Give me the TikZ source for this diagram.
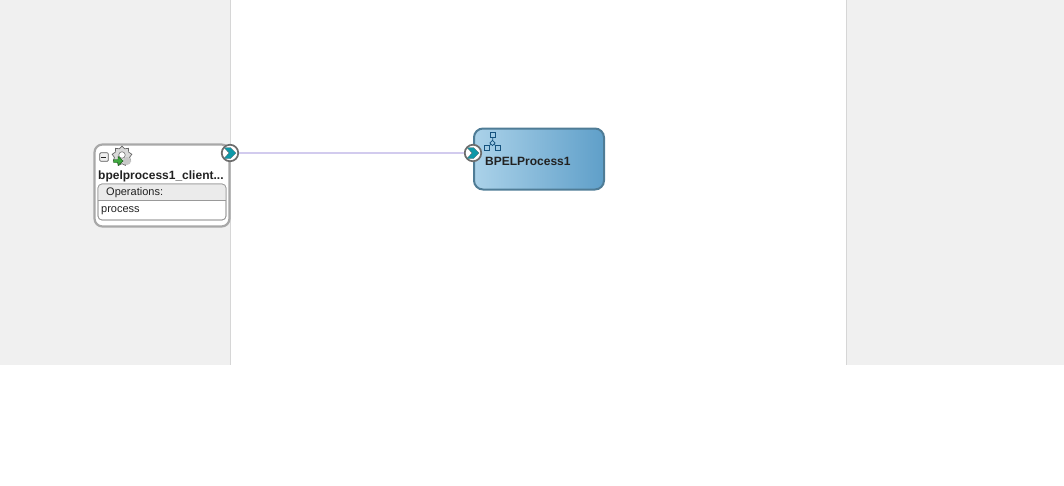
\documentclass[tikz,border=0pt]{standalone}
\usepackage{fontspec}
\setmainfont{Liberation Sans}
\usetikzlibrary{shapes.geometric}
\definecolor{panelgray}{HTML}{F0F0F0}
\definecolor{panelline}{HTML}{D6D6D6}
\definecolor{boxline}{HTML}{A8A8A8}
\definecolor{wireline}{HTML}{D2CBEE}
\definecolor{compline}{HTML}{4F7C96}
\definecolor{compleft}{HTML}{ABD2E9}
\definecolor{compright}{HTML}{5F9FC9}
\definecolor{portteal}{HTML}{0E98A8}
\definecolor{iconblue}{HTML}{14527E}
\definecolor{textgray}{HTML}{222222}
\tikzset{
  clientbox/.style={draw=boxline, line width=2.2pt, rounded corners=8pt, fill=white, minimum width=135pt, minimum height=82pt, inner sep=0pt},
  opsbox/.style={draw=gray!80, line width=.7pt, rounded corners=4pt, fill=white, minimum width=128pt, minimum height=36pt, inner sep=0pt},
  compbox/.style={draw=compline, line width=2pt, rounded corners=9pt, left color=compleft, right color=compright, minimum width=130pt, minimum height=61pt, inner sep=0pt},
  portnode/.style={circle, draw=gray!85!black, line width=1.7pt, fill=white, minimum size=16.5pt, inner sep=0pt},
  treenode/.style={rectangle, draw=iconblue, line width=.8pt, minimum size=5pt, inner sep=0pt},
  boldlabel/.style={font=\bfseries\fontsize{12}{14}\selectfont, text=textgray, inner sep=0pt, anchor=base west},
  smalllabel/.style={font=\fontsize{11}{13}\selectfont, text=textgray, inner sep=0pt, anchor=base west},
  chevron/.style={fill=portteal, draw=black!60, line width=.3pt}
}
\begin{document}
\begin{tikzpicture}[x=1pt,y=-1pt]
\useasboundingbox (0,0) rectangle (1064,485);
% side panels
\fill[panelgray] (0,0) rectangle (230,365);
\fill[panelgray] (846,0) rectangle (1064,365);
\draw[panelline] (230.5,0) -- (230.5,365);
\draw[panelline] (846.5,0) -- (846.5,365);
% client reference
\node[clientbox] (client) at (162,185.5){};
\node[opsbox] (ops) at (162,202){};
\begin{scope}
\clip[rounded corners=4pt] (98,184) rectangle (226,220);
\fill[black!8] (98,184) rectangle (226,200);
\end{scope}
\node[opsbox, fill=none] (opsframe) at (162,202){};
\coordinate (opsl) at (98,200);
\coordinate (opsr) at (226,200);
\draw[gray!80, line width=.7pt] (opsl) -- (opsr);
\node[boldlabel] (clientname) at (98,179){bpelprocess1\_client...};
\node[smalllabel] (opstitle) at (106,195){Operations:};
\node[smalllabel] (opsitem) at (101,212){process};
% collapse box and gear
\node[rectangle, rounded corners=1pt, draw=black!65, line width=.7pt, fill=black!6, minimum size=8.5pt, inner sep=0pt] (minus) at (104,157){};
\draw[black!85, line width=.9pt] (minus.west) ++(1.8,0) -- ++(5,0);
\node[star, star points=9, star point ratio=1.3, draw=black!60, fill=black!15, line width=.7pt, minimum size=20pt, inner sep=0pt] (gear) at (122,156){};
\node[circle, draw=black!55, fill=white, minimum size=6.5pt, inner sep=0pt, line width=.6pt] (gearhole) at (122,155){};
\node[circle, fill=black!22, minimum size=8pt, inner sep=0pt] (gearback) at (127,161){};
\fill[green!55!black!75, draw=green!30!black, line width=.4pt] (113.5,159.5) -- (118,159.5) -- (118,156.5) -- (123,161) -- (118,165.5) -- (118,162.5) -- (113.5,162.5) -- cycle;
% component
\node[compbox] (bpel) at (539,159){};
\node[boldlabel] (bpelname) at (485,165){BPELProcess1};
\node[treenode] (tid0) at (493,135){};
\node[treenode, shape=diamond, minimum size=5.5pt] (tid1) at (492.5,143){};
\node[treenode] (tid2) at (487,147.5){};
\node[treenode] (tid3) at (498,147.5){};
\draw[iconblue, line width=.7pt] (tid0) -- (tid1);
\draw[iconblue, line width=.7pt] (tid1) -- (tid2);
\draw[iconblue, line width=.7pt] (tid1) -- (tid3);
% ports and wire
\node[portnode] (portout) at (230,153){};
\node[portnode] (portin) at (473,153){};
\draw[wireline, line width=2.2pt] (portout) -- (portin);
\foreach \p in {portout,portin}{
  \fill[chevron] (\p) ++(-6,-5.5) -- ++(6.5,0) -- ++(5.5,5.5) -- ++(-5.5,5.5) -- ++(-6.5,0) -- ++(5,-5.5) -- cycle;
}
\end{tikzpicture}
\end{document}
